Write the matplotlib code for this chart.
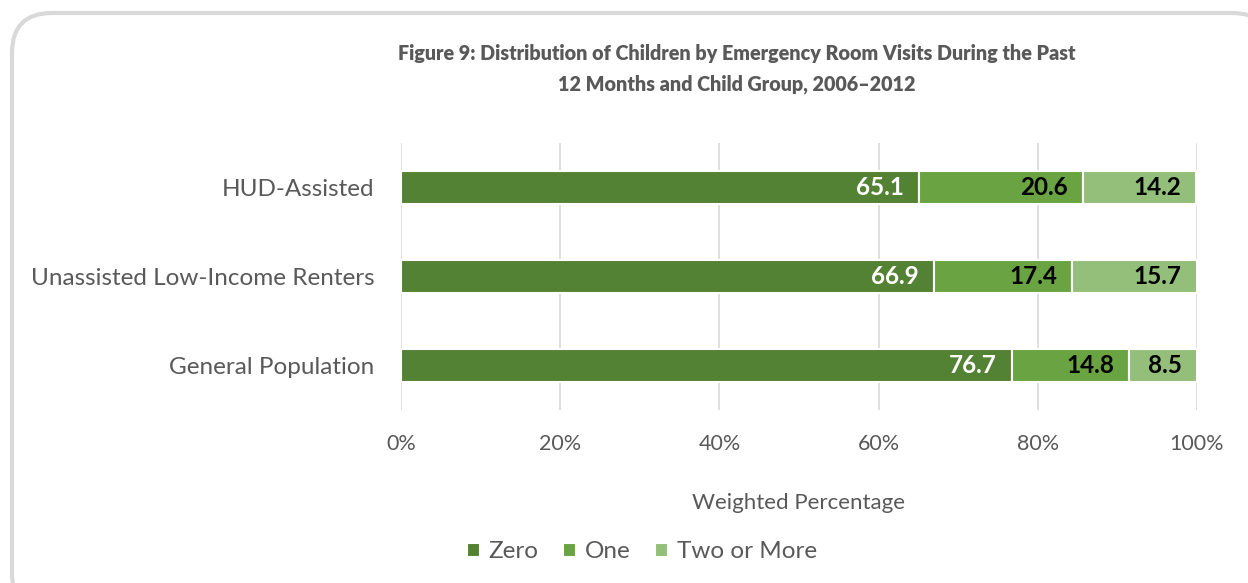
import matplotlib.pyplot as plt
from matplotlib.patches import FancyBboxPatch

# Data
groups = ["HUD-Assisted", "Unassisted Low-Income Renters", "General Population"]
zero = [65.1, 66.9, 76.7]
one = [20.6, 17.4, 14.8]
two_or_more = [14.2, 15.7, 8.5]
series_names = ["Zero", "One", "Two or More"]
ticks = [0, 20, 40, 60, 80, 100]

colors = ["#548235", "#6aa342", "#93bf7a"]
label_colors = ["white", "black", "black"]
grey = "#595959"

plt.rcParams['font.family'] = ['Lato', 'DejaVu Sans']

fig = plt.figure(figsize=(12.48, 5.83), dpi=100)

# rounded frame behind everything, drawn in pixel coordinates
bg = fig.add_axes([0, 0, 1, 1], zorder=0)
bg.set_xlim(0, 1248)
bg.set_ylim(583, 0)
bg.axis('off')
bg.add_patch(FancyBboxPatch((12, 13), 1260, 600, boxstyle="round,pad=0,rounding_size=40",
                            facecolor="white", edgecolor="#d9d9d9", linewidth=3))

ax = fig.add_axes([401 / 1248, 1 - 410 / 583, 796 / 1248, 267 / 583], zorder=1)
ax.patch.set_alpha(0)

y = list(range(len(groups)))
left = [0] * len(groups)
for vals, name, col, lcol in zip([zero, one, two_or_more], series_names, colors, label_colors):
    bars = ax.barh(y, vals, left=left, height=0.37, color=col, edgecolor="white",
                   linewidth=1.5, label=name, zorder=3)
    for b, v in zip(bars, vals):
        ax.text(b.get_x() + b.get_width() - 1.9, b.get_y() + b.get_height() / 2, f"{v:.1f}",
                ha="right", va="center", fontsize=17.5, fontweight="bold", color=lcol, zorder=4)
    left = [l + v for l, v in zip(left, vals)]

ax.set_xlim(0, 100)
ax.set_ylim(2.5, -0.5)
ax.set_xticks(ticks)
ax.set_xticklabels([f"{t}%" for t in ticks], fontsize=15.5, color=grey)
ax.set_yticks(y)
ax.set_yticklabels(groups, fontsize=17.5, color=grey)
ax.tick_params(axis="both", length=0)
ax.tick_params(axis="x", pad=17.5)
ax.tick_params(axis="y", pad=19)
ax.xaxis.grid(True, color="#d9d9d9", linewidth=1.2, zorder=0)
for s in ax.spines.values():
    s.set_visible(False)

ax.set_xlabel("Weighted Percentage", fontsize=16, color=grey, labelpad=28)

fig.text(0.5 * (400 + 1073) / 1248, 1 - 69 / 583,
         "Figure 9: Distribution of Children by Emergency Room Visits During the Past\n"
         "12 Months and Child Group, 2006\u20132012",
         ha="center", va="center", fontsize=14.2, fontweight="heavy", color=grey, linespacing=1.7)

handles, labels = ax.get_legend_handles_labels()
fig.legend(handles, labels, loc="center", bbox_to_anchor=(642 / 1248, 1 - 552 / 583), ncol=3,
           frameon=False, fontsize=17.5, handlelength=0.55, handleheight=0.55,
           handletextpad=0.35, columnspacing=1.0, labelcolor=grey)

fig.savefig("out.png", dpi=100)
